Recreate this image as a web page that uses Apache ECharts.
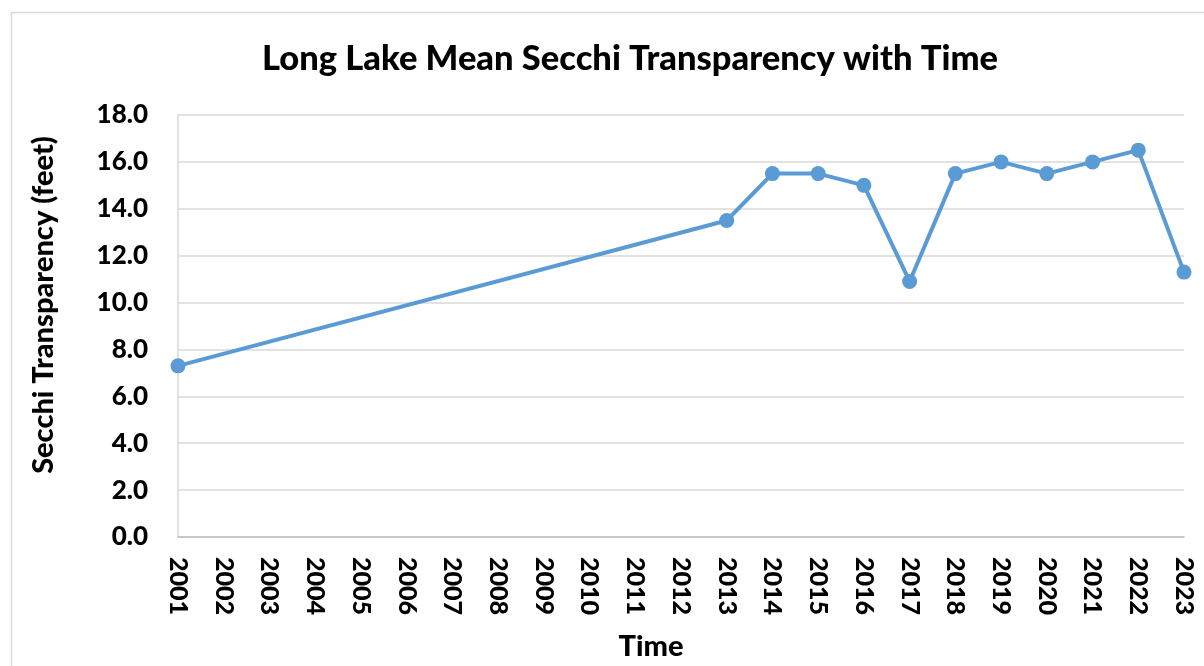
<!DOCTYPE html>
<html><head><meta charset="utf-8">
<script src="https://cdn.jsdelivr.net/npm/echarts@6/dist/echarts.min.js"></script>
<style>html,body{margin:0;padding:0;background:#fff}#c{width:1204px;height:666px}</style>
</head><body><div id="c"></div>
<script>
const years = ['2001','2002','2003','2004','2005','2006','2007','2008','2009','2010','2011','2012','2013','2014','2015','2016','2017','2018','2019','2020','2021','2022','2023'];
const secchi = [7.3,null,null,null,null,null,null,null,null,null,null,null,13.5,15.5,15.5,15.0,10.9,15.5,16.0,15.5,16.0,16.5,11.3];
const yTicks = {min:0, max:18, interval:2};
const FONT = 'Lato';
const W = 900;
const chart = echarts.init(document.getElementById('c'), null, {renderer:'canvas'});
chart.setOption({
  animation:false,
  backgroundColor:'#fff',
  graphic:[{type:'rect', shape:{x:11.5,y:12.5,width:1200,height:700}, style:{fill:null, stroke:'#d9d9d9', lineWidth:1.5}, silent:true}],
  title:{text:'Long Lake Mean Secchi Transparency with Time', left:625, top:36, textAlign:'center',
    textStyle:{fontFamily:FONT, fontWeight:W, fontSize:34.5, color:'#000'}},
  grid:{left:178, top:115, right:20, bottom:128, containLabel:false},
  xAxis:{type:'category', data:years, boundaryGap:false,
    name:'Time', nameLocation:'middle', nameGap:95,
    nameTextStyle:{fontFamily:FONT, fontWeight:W, fontSize:29, color:'#000', padding:[0,60,0,0]},
    axisLine:{lineStyle:{color:'#bfbfbf', width:1.5}}, axisTick:{show:false},
    axisLabel:{rotate:-90, margin:20, fontFamily:FONT, fontWeight:W, fontSize:25, color:'#000', interval:0},
    splitLine:{show:false}},
  yAxis:{type:'value', min:yTicks.min, max:yTicks.max, interval:yTicks.interval,
    name:'Secchi Transparency (feet)', nameLocation:'middle', nameGap:120, nameRotate:90,
    nameTextStyle:{fontFamily:FONT, fontWeight:W, fontSize:29, color:'#000', padding:[0,0,0,42]},
    axisLine:{show:true, lineStyle:{color:'#d9d9d9', width:1.5}}, axisTick:{show:false},
    axisLabel:{margin:30, fontFamily:FONT, fontWeight:W, fontSize:26, color:'#000', formatter:v=>v.toFixed(1)},
    splitLine:{lineStyle:{color:'#d9d9d9', width:1.5}}},
  series:[{type:'line', data:secchi, connectNulls:true, symbol:'circle', symbolSize:15,
    lineStyle:{color:'#5b9bd5', width:4}, itemStyle:{color:'#5b9bd5'}}]
});
</script></body></html>
